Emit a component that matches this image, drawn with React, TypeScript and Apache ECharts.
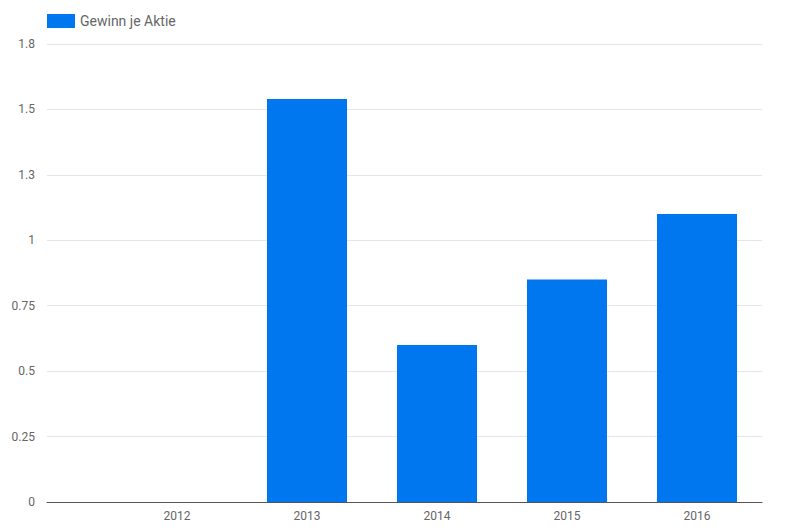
import React, { useEffect, useRef } from "react";
import * as echarts from "echarts";

const categories = [2012, 2013, 2014, 2015, 2016];
const values = [0, 1.54, 0.6, 0.85, 1.1];
const seriesName = "Gewinn je Aktie";
const yTickLabels = ["0", "0.25", "0.5", "0.75", "1", "1.3", "1.5", "1.8"];

export default function App() {
  const ref = useRef<HTMLDivElement>(null);
  useEffect(() => {
    if (!ref.current) return;
    const chart = echarts.init(ref.current, null, { renderer: "svg" });
    chart.setOption({
      animation: false,
      textStyle: { fontFamily: "Roboto" },
      legend: {
        show: true,
        left: 42,
        top: 9,
        itemWidth: 28,
        itemHeight: 14,
        icon: "rect",
        itemGap: 10,
        textStyle: { fontSize: 14, color: "#666", padding: [0, 0, 0, 0] },
        data: [seriesName],
      },
      grid: { left: 47, right: 34, top: 44, bottom: 30, containLabel: false },
      xAxis: {
        type: "value",
        min: 2011,
        max: 2016.5,
        interval: 1,
        axisLine: { show: true, lineStyle: { color: "#555", width: 1 } },
        axisTick: { show: false },
        splitLine: { show: false },
        axisLabel: {
          color: "#666",
          fontSize: 12,
          margin: 8,
          showMaxLabel: false,
          formatter: (v: number) => (categories.indexOf(Math.round(v)) >= 0 && Math.abs(v - Math.round(v)) < 1e-6 ? String(Math.round(v)) : ""),
        },
      },
      yAxis: {
        type: "value",
        min: 0,
        max: 1.75,
        interval: 0.25,
        axisLine: { show: false },
        axisTick: { show: false },
        splitLine: { lineStyle: { color: "#e6e6e6", width: 1 } },
        axisLabel: {
          color: "#666",
          fontSize: 12,
          margin: 12,
          formatter: (v: number) => yTickLabels[Math.round(v / 0.25)] ?? "",
        },
      },
      series: [
        {
          name: seriesName,
          type: "bar",
          barWidth: 80,
          itemStyle: { color: "#0077ef" },
          data: categories.map((c, i) => [c, values[i]]),
        },
      ],
    });
    return () => chart.dispose();
  }, []);
  return <div ref={ref} style={{ width: 796, height: 532, position: "absolute", left: 0, top: 0 }} />;
}
